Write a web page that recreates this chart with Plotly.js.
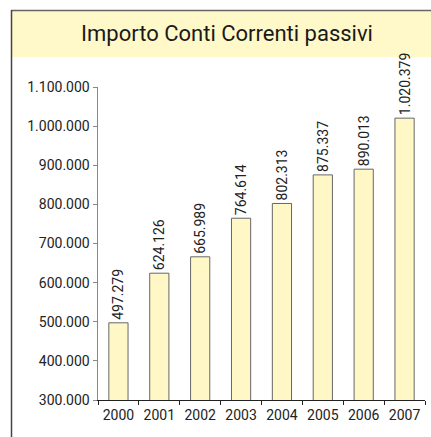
<!DOCTYPE html>
<html><head><meta charset="utf-8">
<script src="https://cdn.plot.ly/plotly-3.0.1.min.js"></script>
<style>html,body{margin:0;padding:0;background:#fff}#c{width:431px;height:437px}</style>
</head><body><div id="c"></div>
<script>
const years = ['2000','2001','2002','2003','2004','2005','2006','2007'];
const values = [497279, 624126, 665989, 764614, 802313, 875337, 890013, 1020379];
const yTickVals = [300000,400000,500000,600000,700000,800000,900000,1000000,1100000];

function fmt(n){ return String(n).replace(/\B(?=(\d{3})+(?!\d))/g,'.'); }

const W=431,H=437,L=98,R=6,T=87,B=37;
const pw=W-L-R, ph=H-T-B;
const px=x=>(x-L)/pw, py=y=>(H-B-y)/ph;
const FONT='Roboto, "DejaVu Sans", sans-serif';

const trace = {
  type:'bar', x:years, y:values,
  text: values.map(fmt), textposition:'outside', textangle:-90,
  constraintext:'none', cliponaxis:false,
  textfont:{family:FONT,size:14,color:'#222'},
  marker:{color:'#FFF8C6', line:{color:'#666',width:1}},
  hoverinfo:'none'
};
const layout = {
  width:W,height:H,
  margin:{l:L,r:R,t:T,b:B,pad:0},
  paper_bgcolor:'#fff', plot_bgcolor:'#fff',
  bargap:0.53, showlegend:false,
  font:{family:FONT,size:14,color:'#222'},
  title:{text:'Importo Conti Correnti passivi', xref:'container', yref:'container',
    x:227/W, xanchor:'center', y:1-33/H, yanchor:'middle',
    font:{family:FONT,size:22,color:'#1a1a1a'}},
  xaxis:{type:'category', tickson:'boundaries', ticks:'outside', ticklen:4, tickcolor:'#222',
    ticklabelstandoff:2,
    showline:true, linecolor:'#222', linewidth:1, showgrid:false, zeroline:false,
    tickfont:{family:FONT,size:14,color:'#222'}},
  yaxis:{range:[300000,1100000], tickvals:yTickVals, ticktext:yTickVals.map(fmt),
    ticks:'outside', ticklen:4, tickcolor:'#888', showline:true, linecolor:'#888', linewidth:1.5,
    showgrid:false, zeroline:false, tickfont:{family:FONT,size:14,color:'#222'}},
  shapes:[
    {type:'rect', xref:'paper', yref:'paper', x0:px(11), x1:px(433), y0:py(57), y1:py(10),
      fillcolor:'#FFF8C8', line:{width:0}, layer:'below'},
    {type:'line', xref:'paper', yref:'paper', x0:px(11), x1:px(433), y0:py(10.5), y1:py(10.5),
      line:{color:'#666',width:1.5}},
    {type:'line', xref:'paper', yref:'paper', x0:px(11.5), x1:px(11.5), y0:py(10), y1:py(440),
      line:{color:'#444',width:1.5}}
  ]
};
Plotly.newPlot('c',[trace],layout,{displayModeBar:false,staticPlot:true});
</script></body></html>
